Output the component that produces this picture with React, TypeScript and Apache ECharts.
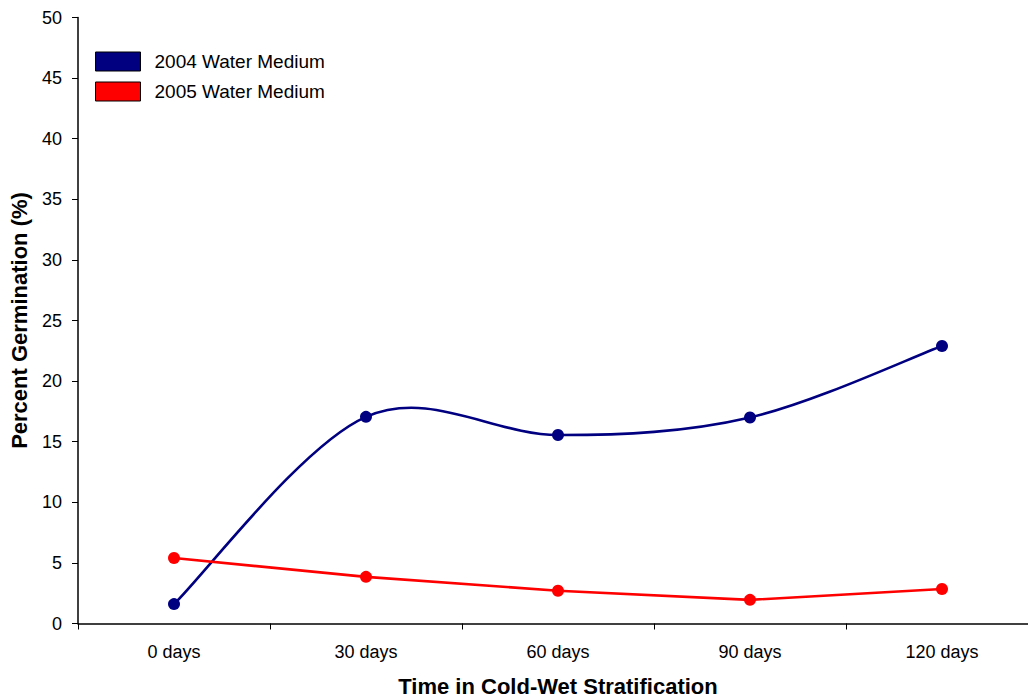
import React, { useEffect, useRef } from "react";
import * as echarts from "echarts";

const categories = ["0 days", "30 days", "60 days", "90 days", "120 days"];
const water2004 = [1.6, 17.05, 15.55, 17.0, 22.9];
const water2005 = [5.4, 3.85, 2.7, 1.95, 2.85];
const seriesNames = ["2004 Water Medium", "2005 Water Medium"];
const colors = ["#000080", "#ff0000"];

const FONT = "'Liberation Sans', Arial, sans-serif";

// Catmull-Rom style smoothed segment between point i and i+1,
// with end points duplicated (spreadsheet-style smoothed line).
function smoothSegment(values: number[], color: string) {
  return (params: any, api: any) => {
    const i = params.dataIndex;
    const n = values.length;
    if (i >= n - 1) return null;
    const pt = (k: number) => {
      const c = Math.max(0, Math.min(n - 1, k));
      return api.coord([c, values[c]]);
    };
    const p0 = pt(i - 1);
    const p1 = pt(i);
    const p2 = pt(i + 1);
    const p3 = pt(i + 2);
    return {
      type: "bezierCurve",
      silent: true,
      shape: {
        x1: p1[0],
        y1: p1[1],
        x2: p2[0],
        y2: p2[1],
        cpx1: p1[0] + (p2[0] - p0[0]) / 6,
        cpy1: p1[1] + (p2[1] - p0[1]) / 6,
        cpx2: p2[0] - (p3[0] - p1[0]) / 6,
        cpy2: p2[1] - (p3[1] - p1[1]) / 6,
      },
      style: { stroke: color, lineWidth: 2.6, fill: "none" },
    };
  };
}

export default function App() {
  const ref = useRef<HTMLDivElement>(null);

  useEffect(() => {
    if (!ref.current) return;
    const chart = echarts.init(ref.current, undefined, { renderer: "svg" });
    chart.setOption({
      animation: false,
      backgroundColor: "#ffffff",
      textStyle: { fontFamily: FONT },
      grid: {
        left: 78,
        right: -10,
        top: 17.5,
        bottom: 74.5,
        containLabel: false,
        outerBoundsMode: "none",
      },
      legend: {
        orient: "vertical",
        left: 95,
        top: 49,
        padding: 0,
        itemWidth: 45,
        itemHeight: 19,
        itemGap: 5,
        data: seriesNames.map((n, i) => ({
          name: n,
          icon: "rect",
          itemStyle: {
            color: colors[i],
            borderColor: "#000000",
            borderWidth: 1,
          },
        })),
        textStyle: {
          fontSize: 19,
          lineHeight: 19,
          color: "#000",
          fontFamily: FONT,
          padding: [0, 0, 6, 9],
        },
      },
      xAxis: {
        type: "category",
        data: categories,
        boundaryGap: true,
        name: "Time in Cold-Wet Stratification",
        nameLocation: "middle",
        nameGap: 52,
        nameTextStyle: { fontSize: 22, fontWeight: "bold", color: "#000", fontFamily: FONT },
        axisLine: { lineStyle: { color: "#000", width: 1.5 } },
        axisTick: { show: true, length: 6, lineStyle: { color: "#000" } },
        axisLabel: { fontSize: 18, color: "#000", margin: 19, fontFamily: FONT },
        splitLine: { show: false },
      },
      yAxis: {
        type: "value",
        min: 0,
        max: 50,
        interval: 5,
        name: "Percent Germination (%)",
        nameLocation: "middle",
        nameGap: 48,
        nameRotate: 90,
        nameTextStyle: { fontSize: 22, fontWeight: "bold", color: "#000", fontFamily: FONT },
        axisLine: { show: true, lineStyle: { color: "#000", width: 1.5 } },
        axisTick: { show: true, length: 6, lineStyle: { color: "#000" } },
        axisLabel: { fontSize: 18, color: "#000", margin: 16, fontFamily: FONT },
        splitLine: { show: false },
      },
      series: [
        {
          name: seriesNames[0],
          type: "custom",
          data: water2004.map((v, i) => [i, v]),
          encode: { x: 0, y: 1 },
          renderItem: smoothSegment(water2004, colors[0]),
          silent: true,
          z: 2,
        },
        {
          name: seriesNames[0],
          type: "line",
          data: water2004,
          symbol: "circle",
          symbolSize: 12,
          itemStyle: { color: colors[0] },
          lineStyle: { width: 0, opacity: 0 },
          z: 3,
        },
        {
          name: seriesNames[1],
          type: "line",
          data: water2005,
          smooth: false,
          symbol: "circle",
          symbolSize: 12,
          itemStyle: { color: colors[1] },
          lineStyle: { color: colors[1], width: 2.6 },
          z: 3,
        },
      ],
    });
    return () => chart.dispose();
  }, []);

  return (
    <div
      ref={ref}
      style={{ position: "fixed", left: 0, top: 0, width: 1028, height: 698, background: "#fff" }}
    />
  );
}
